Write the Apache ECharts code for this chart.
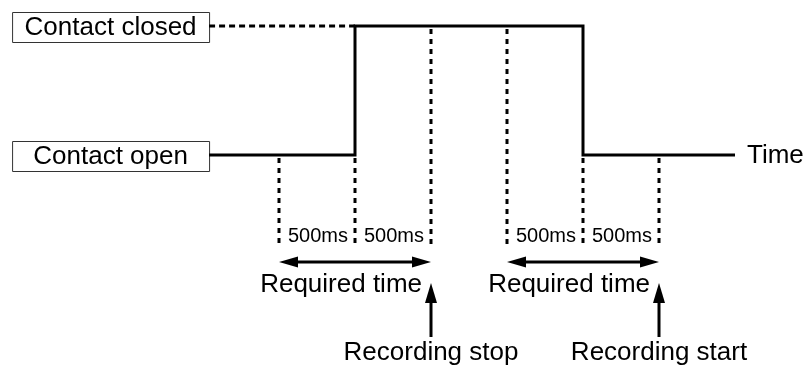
<!DOCTYPE html>
<html>
<head>
<meta charset="utf-8">
<script src="https://cdn.jsdelivr.net/npm/echarts@6/dist/echarts.min.js"></script>
<style>
  html, body { margin: 0; padding: 0; background: #fff; }
  #chart { width: 811px; height: 369px; }
</style>
</head>
<body>
<div id="chart"></div>
<script>
// ---- data ----
const signalTime  = [-460, 500, 500, 2000, 2000, 3000];
const signalLevel = [0, 0, 1, 1, 0, 0];
const closedGuideTime = [-460, 500];
const markerTime = [0, 500, 1000, 1500, 2000, 2500];
const markerTop  = [0, 0, 1, 1, 0, 0];
const intervalStart = [0, 500, 1500, 2000];
const intervalEnd   = [500, 1000, 2000, 2500];
const intervalLabel = ['500ms', '500ms', '500ms', '500ms'];
const requiredStart = [0, 1500];
const requiredEnd   = [1000, 2500];
const requiredLabel = ['Required time', 'Required time'];
const eventTime  = [1000, 2500];
const eventLabel = ['Recording stop', 'Recording start'];
const stateLabel = ['Contact closed', 'Contact open'];
const stateLevel = [1, 0];
const axisName = 'Time';

// ---- layout ----
const T0PX = 279, PX_PER_MS = 0.152;
const HIGH_PX = 26, LOW_PX = 155, H = 369, W = 811;
const UNIT = LOW_PX - HIGH_PX;
const FONT = '"Liberation Sans", Arial, Helvetica, sans-serif';

const chart = echarts.init(document.getElementById('chart'), null, { renderer: 'canvas' });

function txt(x, y, text, size, align) {
  return {
    type: 'text',
    style: {
      x: x, y: y, text: text, fill: '#000',
      font: size + 'px ' + FONT,
      align: align || 'center', verticalAlign: 'middle',
      textAlign: align || 'center', textVerticalAlign: 'middle'
    }
  };
}
function arrowHead(tipX, tipY, dx, dy, len, half) {
  const bx = tipX - dx * len, by = tipY - dy * len;
  const px = -dy, py = dx;
  return {
    type: 'polygon',
    shape: { points: [[tipX, tipY], [bx + px * half, by + py * half], [bx - px * half, by - py * half]] },
    style: { fill: '#000' }
  };
}

const option = {
  animation: false,
  grid: { left: 0, right: 0, top: 0, bottom: 0 },
  xAxis: {
    type: 'value', show: false,
    min: -T0PX / PX_PER_MS, max: (W - T0PX) / PX_PER_MS
  },
  yAxis: {
    type: 'value', show: false,
    min: -(H - LOW_PX) / UNIT, max: 1 + HIGH_PX / UNIT
  },
  series: [
    {
      name: 'closedGuide', type: 'line', symbol: 'none', silent: true,
      data: closedGuideTime.map(t => [t, 1]),
      lineStyle: { color: '#000', width: 3, type: [6, 4], cap: 'butt' }
    },
    {
      name: 'markers', type: 'custom', silent: true,
      data: markerTime.map((t, i) => [t, markerTop[i]]),
      renderItem: function (params, api) {
        const top = api.coord([api.value(0), api.value(1)]);
        const base = api.coord([api.value(0), 0]);
        return {
          type: 'line',
          shape: { x1: top[0], y1: top[1] + 3, x2: top[0], y2: base[1] + 92 },
          style: { stroke: '#000', lineWidth: 3, lineDash: [5, 5], lineCap: 'butt' }
        };
      }
    },
    {
      name: 'signal', type: 'line', symbol: 'none', silent: true,
      data: signalTime.map((t, i) => [t, signalLevel[i]]),
      lineStyle: { color: '#000', width: 3, join: 'miter', cap: 'butt' }
    },
    {
      name: 'intervals', type: 'custom', silent: true,
      data: intervalStart.map((s, i) => [(s + intervalEnd[i]) / 2, 0]),
      renderItem: function (params, api) {
        const p = api.coord([api.value(0), 0]);
        return txt(p[0] + 1, p[1] + 81, intervalLabel[params.dataIndex], 20);
      }
    },
    {
      name: 'required', type: 'custom', silent: true,
      data: requiredStart.map((s, i) => [s, requiredEnd[i]]),
      renderItem: function (params, api) {
        const a = api.coord([api.value(0), 0]);
        const b = api.coord([api.value(1), 0]);
        const y = a[1] + 107;
        const len = 19, half = 5.5;
        return {
          type: 'group',
          children: [
            { type: 'line', shape: { x1: a[0] + len - 2, y1: y, x2: b[0] - len + 2, y2: y },
              style: { stroke: '#000', lineWidth: 3 } },
            arrowHead(a[0], y, -1, 0, len, half),
            arrowHead(b[0], y, 1, 0, len, half),
            txt(b[0] - 9, y + 23, requiredLabel[params.dataIndex], 26, 'right')
          ]
        };
      }
    },
    {
      name: 'events', type: 'custom', silent: true,
      data: eventTime.map(t => [t, 0]),
      renderItem: function (params, api) {
        const p = api.coord([api.value(0), 0]);
        const tipY = p[1] + 128, botY = p[1] + 182;
        return {
          type: 'group',
          children: [
            { type: 'line', shape: { x1: p[0], y1: tipY + 18, x2: p[0], y2: botY },
              style: { stroke: '#000', lineWidth: 3 } },
            arrowHead(p[0], tipY, 0, -1, 20, 6),
            txt(p[0], p[1] + 198, eventLabel[params.dataIndex], 26)
          ]
        };
      }
    },
    {
      name: 'states', type: 'custom', silent: true,
      data: stateLevel.map(l => [signalTime[0], l]),
      renderItem: function (params, api) {
        const p = api.coord([api.value(0), api.value(1)]);
        const w = 197, h = 30;
        const x0 = p[0] - w, y0 = p[1] - h / 2 + 1;
        return {
          type: 'group',
          children: [
            { type: 'rect', shape: { x: x0 + 0.5, y: y0 + 0.5, width: w, height: h },
              style: { fill: '#fff', stroke: '#333', lineWidth: 1 } },
            txt(x0 + w / 2, y0 + h / 2 + 1, stateLabel[params.dataIndex], 26)
          ]
        };
      }
    },
    {
      name: 'timeLabel', type: 'custom', silent: true,
      data: [[signalTime[signalTime.length - 1], 0]],
      renderItem: function (params, api) {
        const p = api.coord([api.value(0), api.value(1)]);
        return txt(p[0] + 12, p[1] + 1, axisName, 26, 'left');
      }
    }
  ]
};
chart.setOption(option);
</script>
</body>
</html>
